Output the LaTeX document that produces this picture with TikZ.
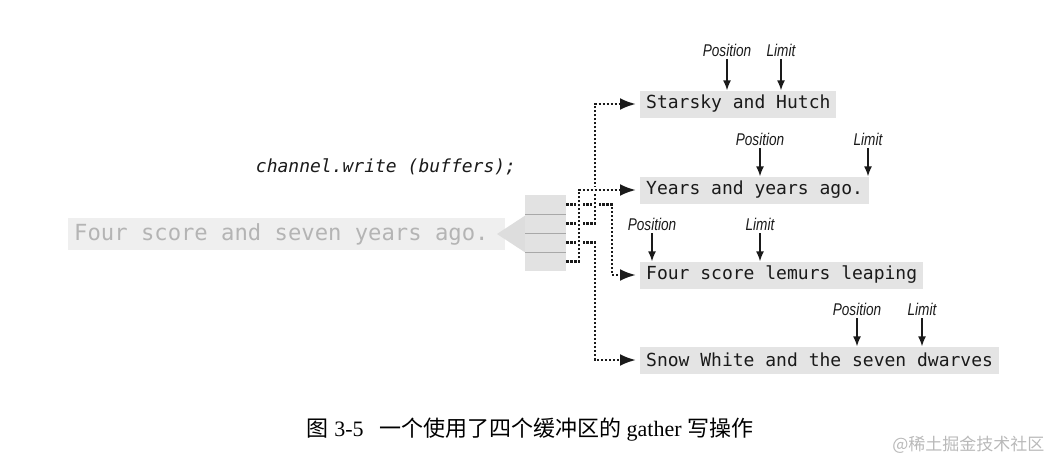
\documentclass[tikz,border=0pt]{standalone}
\usepackage{fontspec}
\setmainfont{Liberation Serif}
\newfontfamily\monof{DejaVu Sans Mono}
\newfontfamily\labf{Liberation Sans}
\newfontfamily\cjkf{Noto Sans CJK SC}
\usetikzlibrary{arrows.meta}
\definecolor{boxgray}{HTML}{E4E4E4}
\definecolor{txt}{HTML}{1A1A1A}
\definecolor{bandgray}{HTML}{EFEFEF}
\definecolor{bandtxt}{HTML}{B4B4B4}
\definecolor{headgray}{HTML}{DDDDDD}
\definecolor{stackgray}{HTML}{E2E2E2}
\definecolor{sepgray}{HTML}{A8A8A8}
\newcommand{\lbltext}[1]{\scalebox{0.8}[1]{#1}}
\begin{document}
\begin{tikzpicture}[x=1pt,y=-1pt,
  strbox/.style={fill=boxgray, anchor=west, minimum height=27pt, inner xsep=6pt, inner ysep=0pt, text=txt, font=\monof\fontsize{18}{18}\selectfont},
  lbl/.style={font=\labf\itshape\fontsize{17}{17}\selectfont, inner sep=0pt, text=txt},
  ptr/.style={line width=1.4pt, draw=txt, -{Latex[length=10pt,width=8pt]}},
  conn/.style={line width=2.6pt, dash pattern=on 2.2pt off 1.8pt, draw=txt, shorten >=4pt, -{Latex[length=16pt,width=12pt]}},
  halo/.style={preaction={draw=white, line width=7pt, solid, -, shorten >=0pt}},
  cell/.style={fill=stackgray, minimum width=41pt, minimum height=19pt, inner sep=0pt, anchor=north west},
]
\useasboundingbox (0,0) rectangle (1054,463);

% big output arrow
\fill[bandgray] (68,218) rectangle (505,250);
\node[anchor=west, inner xsep=6pt, inner ysep=0pt, text=bandtxt,
      font=\monof\fontsize{22.2}{22.2}\selectfont] (band) at (68,234) {Four score and seven years ago.};
\fill[headgray] (526,215) -- (497,234) -- (526,253) -- cycle;

% buffer stack
\node[cell] (c1) at (525,195) {};
\node[cell] (c2) at (525,214) {};
\node[cell] (c3) at (525,233) {};
\node[cell] (c4) at (525,252) {};
\foreach \c in {c1,c2,c3}{\draw[sepgray, line width=1.2pt] (\c.south west) -- (\c.south east);}

% code label
\node[text=txt, font=\monof\itshape\fontsize{18}{18}\selectfont] (code) at (386,167) {channel.write (buffers);};

% target buffers
\node[strbox] (b1) at (640,104) {Starsky and Hutch};
\node[strbox] (b2) at (640,190) {Years and years ago.};
\node[strbox] (b3) at (640,275) {Four score lemurs leaping};
\node[strbox] (b4) at (640,360) {Snow White and the seven dwarves};

% position / limit labels
\node[lbl] (p1) at (727,50) {\lbltext{Position}};
\node[lbl] (l1) at (781,50) {\lbltext{Limit}};
\node[lbl] (p2) at (760,139) {\lbltext{Position}};
\node[lbl] (l2) at (868,139) {\lbltext{Limit}};
\node[lbl] (p3) at (652,224) {\lbltext{Position}};
\node[lbl] (l3) at (760,224) {\lbltext{Limit}};
\node[lbl] (p4) at (857,309) {\lbltext{Position}};
\node[lbl] (l4) at (922,309) {\lbltext{Limit}};
\foreach \l/\b in {p1/b1,l1/b1,p2/b2,l2/b2,p3/b3,l3/b3,p4/b4,l4/b4}{
  \draw[ptr] ([yshift=-3pt]\l.south) -- (\l.south |- \b.north);
}

% connector columns
\coordinate (va) at (579,0);
\coordinate (vb) at (595,0);
\coordinate (vc) at (612,0);

\draw[conn] (c1.east) -- (c1.east -| vc) -- (vc |- b3.west) -- (b3.west);
\draw[conn, halo] (c2.east) -- (c2.east -| vb) -- (vb |- b1.west) -- (b1.west);
\draw[conn, halo] (c3.east) -- (c3.east -| vb) -- (vb |- b4.west) -- (b4.west);
\draw[conn, halo] (c4.east) -- (c4.east -| va) -- (va |- b2.west) -- (b2.west);

% caption
\node[text=black, font=\fontsize{22}{22}\selectfont] (cap) at (530,430)
  {{\cjkf 图} 3-5\hspace{0.7em}{\cjkf 一个使用了四个缓冲区的} gather {\cjkf 写操作}};
\node[anchor=east, text=gray!55, font=\cjkf\fontsize{17}{17}\selectfont] (wm) at (1048,445) {@稀土掘金技术社区};
\end{tikzpicture}
\end{document}
